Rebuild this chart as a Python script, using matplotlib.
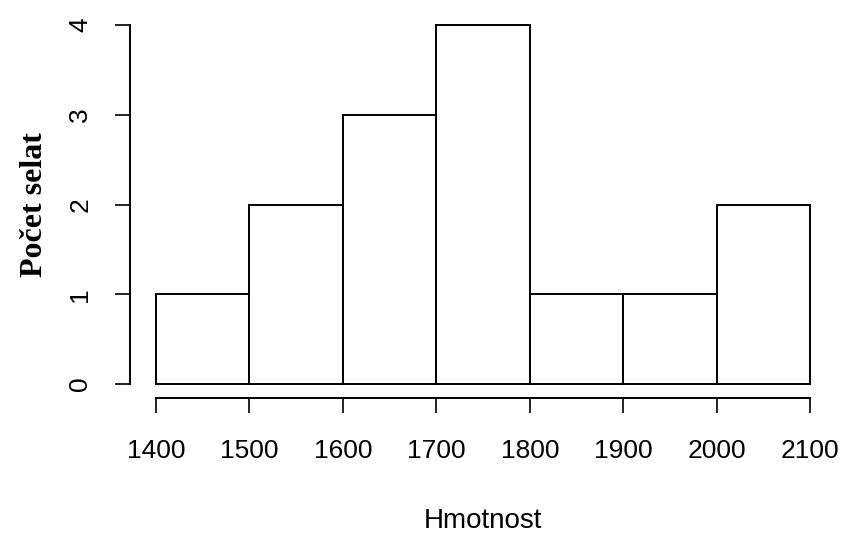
import matplotlib
matplotlib.use("Agg")
import matplotlib.pyplot as plt
import numpy as np

# histogram bins and counts
bin_edges = [1400, 1500, 1600, 1700, 1800, 1900, 2000, 2100]
counts = [1, 2, 3, 4, 1, 1, 2]
x_ticks = [1400, 1500, 1600, 1700, 1800, 1900, 2000, 2100]
y_ticks = [0, 1, 2, 3, 4]

fig = plt.figure(figsize=(8.43, 5.34), dpi=100)
ax = fig.add_axes([0.154, 0.254, 0.838, 0.726])

widths = np.diff(bin_edges)
ax.bar(bin_edges[:-1], counts, width=widths, align="edge",
       facecolor="white", edgecolor="black", linewidth=1.4)

# R-style 4% padding around the data range
xr = bin_edges[-1] - bin_edges[0]
ax.set_xlim(bin_edges[0] - 0.04 * xr, bin_edges[-1] + 0.04 * xr)
ax.set_ylim(-0.04 * max(y_ticks), max(y_ticks) * 1.04)

for s in ["top", "right"]:
    ax.spines[s].set_visible(False)
ax.spines["left"].set_bounds(y_ticks[0], y_ticks[-1])
ax.spines["bottom"].set_bounds(x_ticks[0], x_ticks[-1])
for s in ["left", "bottom"]:
    ax.spines[s].set_linewidth(1.4)

ax.set_xticks(x_ticks)
ax.set_yticks(y_ticks)
ax.set_xticklabels([str(v) for v in x_ticks], family="Liberation Sans", fontsize=19)
ax.set_yticklabels([str(v) for v in y_ticks], family="Liberation Sans", fontsize=19,
                   rotation=90, va="center")
ax.tick_params(axis="both", direction="out", length=11, width=1.4, color="#222222")
ax.tick_params(axis="x", pad=18)
ax.tick_params(axis="y", pad=16)

ax.set_xlabel("Hmotnost", family="Liberation Sans", fontsize=20, labelpad=33)
ax.set_ylabel("Počet selat", family="Liberation Serif", fontsize=23,
              fontweight="bold", labelpad=14)

fig.savefig("out.png", dpi=100)
